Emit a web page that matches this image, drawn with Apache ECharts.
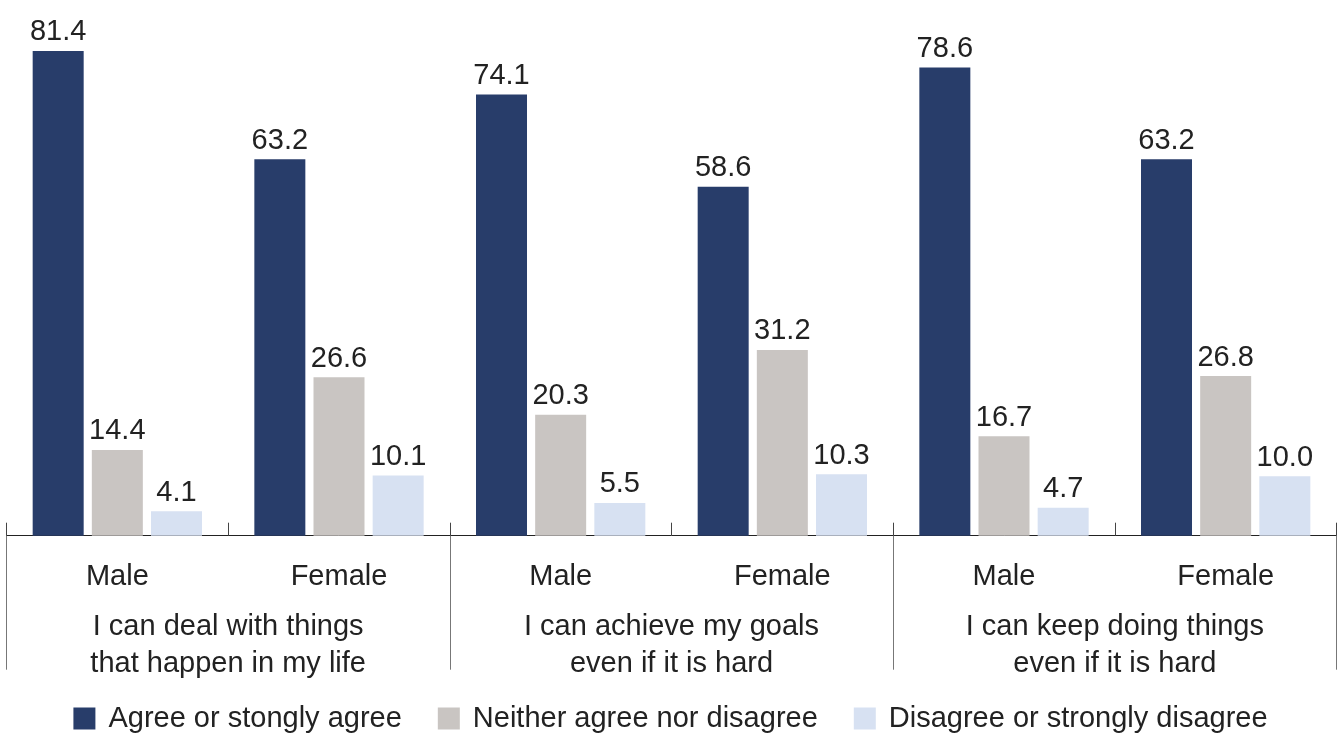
<!DOCTYPE html>
<html>
<head>
<meta charset="utf-8">
<script src="https://cdn.jsdelivr.net/npm/echarts@6/dist/echarts.min.js"></script>
<style>
html,body{margin:0;padding:0;background:#fff;}
#chart{width:1341px;height:733px;}
</style>
</head>
<body>
<div id="chart"></div>
<script>
const categories = ['Male','Female','Male','Female','Male','Female'];
const groups = ['I can deal with things\nthat happen in my life','I can achieve my goals\neven if it is hard','I can keep doing things\neven if it is hard'];
const seriesNames = ['Agree or stongly agree','Neither agree nor disagree','Disagree or strongly disagree'];
const agree = [81.4, 63.2, 74.1, 58.6, 78.6, 63.2];
const neither = [14.4, 26.6, 20.3, 31.2, 16.7, 26.8];
const disagree = [4.1, 10.1, 5.5, 10.3, 4.7, 10.0];
const colors = ['#283d6a', '#c9c5c2', '#d7e1f2'];
const FONT = '"Liberation Sans", Arial, sans-serif';
const FS = 29;

const chart = echarts.init(document.getElementById('chart'));
function mk(name, data, color){
  return {
    name, type:'bar', data, barWidth:51, barGap:'16%',
    itemStyle:{color},
    label:{show:true, position:'top', distance:4, color:'#222', fontSize:FS, fontFamily:FONT,
      formatter:p=>p.value.toFixed(1)}
  };
}
chart.setOption({
  animation:false,
  textStyle:{fontFamily:FONT},
  grid:{left:6.5, right:4.5, top:29.5, bottom:197.3},
  legend:{
    top:699, left:'center', itemWidth:22, itemHeight:22, itemGap:36,
    icon:'rect',
    textStyle:{fontSize:FS, color:'#222', fontFamily:FONT, padding:[0,0,0,8]},
    data:seriesNames
  },
  xAxis:[
    {type:'category', data:categories, position:'bottom',
     axisLine:{show:true, lineStyle:{color:'#222', width:1}},
     axisTick:{show:true, inside:true, length:13, lineStyle:{color:'#444'}},
     axisLabel:{fontSize:FS, color:'#222', margin:27, fontFamily:FONT}},
    {type:'category', data:groups, position:'bottom',
     axisLine:{show:false},
     axisTick:{show:true, inside:false, length:134, lineStyle:{color:'#777'}},
     axisLabel:{fontSize:FS, color:'#222', margin:73, lineHeight:37, fontFamily:FONT}}
  ],
  yAxis:{type:'value', min:0, max:85, show:false, splitLine:{show:false}},
  series:[mk(seriesNames[0], agree, colors[0]), mk(seriesNames[1], neither, colors[1]), mk(seriesNames[2], disagree, colors[2])]
});
</script>
</body>
</html>
